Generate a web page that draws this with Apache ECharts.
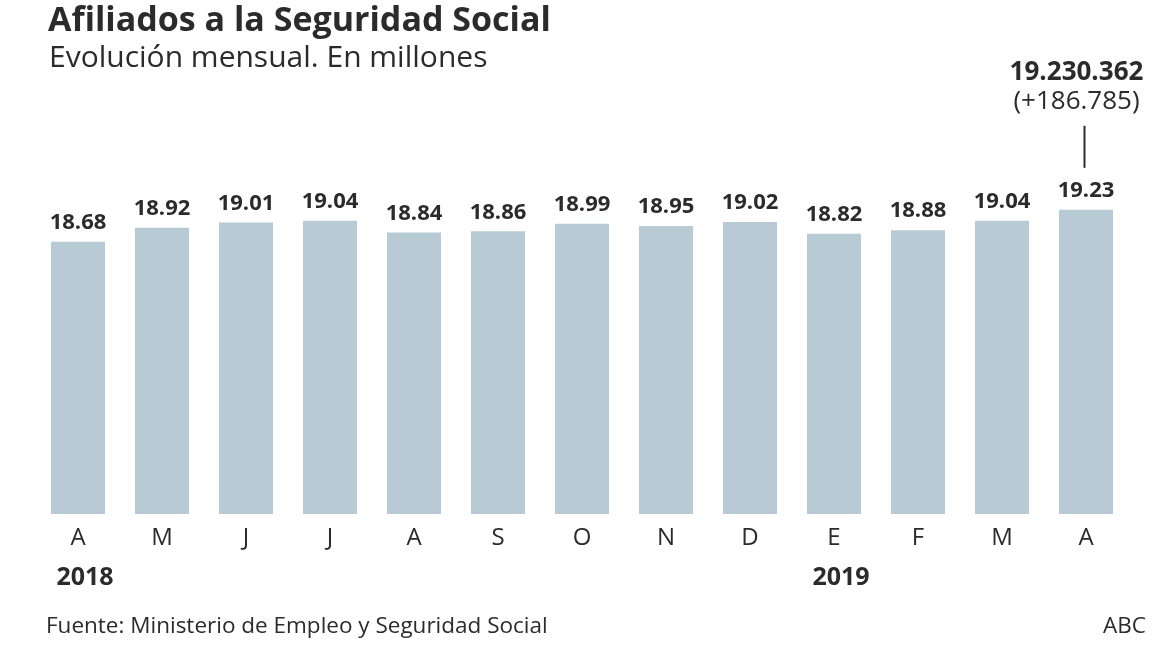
<!DOCTYPE html>
<html><head><meta charset="utf-8">
<script src="https://cdn.jsdelivr.net/npm/echarts@6/dist/echarts.min.js"></script>
<style>html,body{margin:0;padding:0;background:#fff}#c{width:1162px;height:654px}</style>
</head><body><div id="c"></div>
<script>
const months = ['A','M','J','J','A','S','O','N','D','E','F','M','A'];
const years = ['2018','','','','','','','','','2019','','',''];
const values = [18.68,18.92,19.01,19.04,18.84,18.86,18.99,18.95,19.02,18.82,18.88,19.04,19.23];
const lastTotal = '19.230.362';
const lastChange = '(+186.785)';

const FONT = '"Open Sans", "Noto Sans", sans-serif';
const C = '#2b2b2b';
const chart = echarts.init(document.getElementById('c'), null, {renderer:'canvas'});
const staticGraphic = [
  {type:'text',x:48,y:21,style:{text:'Afiliados a la Seguridad Social',font:'bold 34px '+FONT,fill:C,textVerticalAlign:'middle'}},
  {type:'text',x:49,y:58,style:{text:'Evolución mensual. En millones',font:'30px '+FONT,fill:C,textVerticalAlign:'middle'}},
  {type:'text',x:46,y:627,style:{text:'Fuente: Ministerio de Empleo y Seguridad Social',font:'22.5px '+FONT,fill:C,textVerticalAlign:'middle'}},
  {type:'text',x:1146,y:627,style:{text:'ABC',font:'22.5px '+FONT,fill:C,textAlign:'right',textVerticalAlign:'middle'}}
];
chart.setOption({
  animation:false,
  backgroundColor:'#ffffff',
  textStyle:{fontFamily:FONT},
  grid:{left:36,right:34,top:165,bottom:140},
  xAxis:[{
    type:'category', data:months,
    axisLine:{show:false}, axisTick:{show:false},
    axisLabel:{fontFamily:FONT,fontSize:24,color:C,margin:12}
  },{
    type:'category', data:years, position:'bottom', offset:40,
    axisLine:{show:false}, axisTick:{show:false},
    axisLabel:{fontFamily:FONT,fontSize:25,fontWeight:'bold',color:C,margin:11,interval:0,padding:[0,0,0,14]}
  }],
  yAxis:{type:'value',min:14,max:20,show:false,splitLine:{show:false}},
  series:[{
    type:'bar', data:values, barCategoryGap:'35.7%',
    itemStyle:{color:'#b8cbd5'},
    label:{show:true,position:'top',distance:8,fontFamily:FONT,fontSize:22,fontWeight:'bold',color:C,
      formatter:p=>p.value.toFixed(2)}
  }],
  graphic:staticGraphic
});
const li = values.length-1;
const p = chart.convertToPixel({xAxisIndex:0,yAxisIndex:0},[li, values[li]]);
const lx = Math.round(p[0])-1.5;
chart.setOption({graphic:staticGraphic.concat([
  {type:'text',x:lx-8,y:73,style:{text:lastTotal,font:'bold 26px '+FONT,fill:C,textAlign:'center',textVerticalAlign:'middle'}},
  {type:'text',x:lx-8,y:102,style:{text:lastChange,font:'26px '+FONT,fill:C,textAlign:'center',textVerticalAlign:'middle'}},
  {type:'line',shape:{x1:lx,y1:p[1]-84,x2:lx,y2:p[1]-42},style:{stroke:C,lineWidth:2}}
])}, {replaceMerge:['graphic']});
</script></body></html>
